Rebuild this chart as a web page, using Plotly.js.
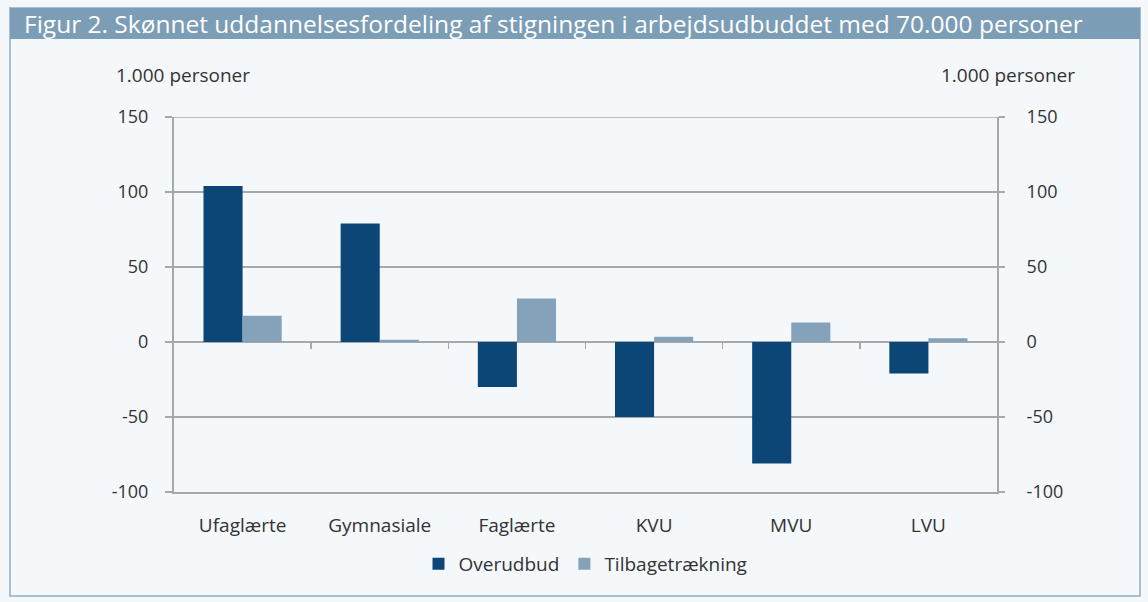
<!DOCTYPE html>
<html>
<head>
<meta charset="utf-8">
<script src="https://cdn.plot.ly/plotly-3.0.1.min.js"></script>
<style>
html,body{margin:0;padding:0;background:#f4f8fb;}
#chart{width:1148px;height:602px;}
</style>
</head>
<body>
<div id="chart"></div>
<script>
const categories = ["Ufaglærte", "Gymnasiale", "Faglærte", "KVU", "MVU", "LVU"];
const overudbud = [104, 79, -30, -50, -81, -21];
const tilbagetraekning = [17.5, 1.5, 29, 3.5, 13, 2.5];
const seriesNames = ["Overudbud", "Tilbagetrækning"];
const yTicks = [-100, -50, 0, 50, 100, 150];
const yTickText = ["-100", "-50", "0", "50", "100", "150"];
const titleText = "Figur 2. Skønnet uddannelsesfordeling af stigningen i arbejdsudbuddet med 70.000 personer";
const unitText = "1.000 personer";

const fontFam = "Open Sans, Noto Sans, sans-serif";
const txtCol = "#333333";
const gridCol = "#a4a9ae";

const L = 174, R = 997, T = 117, B = 492;
const PW = R - L, PH = B - T;

const boundaries = categories.slice(1).map((c, i) => i + 0.5);

const traces = [
  {type: "bar", name: seriesNames[0], x: categories, y: overudbud,
   marker: {color: "#0b4677"}, hoverinfo: "y"},
  {type: "bar", name: seriesNames[1], x: categories, y: tilbagetraekning,
   marker: {color: "#84a3bb"}, hoverinfo: "y"},
  {type: "scatter", x: boundaries, y: boundaries.map(() => 0), xaxis: "x2", yaxis: "y2",
   mode: "markers", marker: {opacity: 0}, showlegend: false, hoverinfo: "skip"}
];

const layout = {
  width: 1148, height: 602,
  paper_bgcolor: "#f4f8fb", plot_bgcolor: "#f4f8fb",
  margin: {l: L, r: 1148 - R, t: T, b: 602 - B},
  barmode: "group", bargap: 0.43, bargroupgap: 0,
  font: {family: fontFam, color: txtCol, size: 18},
  title: {text: titleText, x: 24/1148, xanchor: "left", xref: "container",
          y: 1 - 24/602, yanchor: "middle", yref: "container",
          font: {family: fontFam, size: 24.5, color: "#ffffff"}},
  xaxis: {type: "category", range: [-0.5, 5.5], showgrid: false, zeroline: false,
          showline: true, linecolor: gridCol, linewidth: 2, ticks: "",
          tickfont: {size: 19, color: txtCol}, ticklabelstandoff: 15},
  xaxis2: {overlaying: "x", range: [-0.5, 5.5], anchor: "free", position: 0.4,
           showgrid: false, zeroline: false, showline: false, ticks: "outside",
           tickvals: boundaries, ticklen: 6, tickcolor: gridCol, tickwidth: 1.5,
           showticklabels: false},
  yaxis: {range: [-100, 150], tickvals: yTicks, ticktext: yTickText, showgrid: true,
          gridcolor: gridCol, gridwidth: 1.5, zeroline: true, zerolinecolor: gridCol,
          zerolinewidth: 1.5, showline: true, linecolor: gridCol, linewidth: 2,
          ticks: "outside", ticklen: 7, tickcolor: gridCol, tickwidth: 1.5,
          ticklabelstandoff: 13, tickfont: {size: 18, color: txtCol}},
  yaxis2: {overlaying: "y", side: "right", range: [-100, 150], tickvals: yTicks,
           ticktext: yTickText, showgrid: false, zeroline: false, showline: true,
           linecolor: gridCol, linewidth: 2, ticks: "outside", ticklen: 6,
           tickcolor: gridCol, tickwidth: 1.5, ticklabelstandoff: 18,
           tickfont: {size: 18, color: txtCol}},
  showlegend: true,
  legend: {orientation: "h", x: 0.5, xanchor: "center", y: (B - 545) / PH, yanchor: "top",
           font: {size: 19, color: txtCol}, bgcolor: "rgba(0,0,0,0)", traceorder: "normal",
           itemwidth: 30},
  shapes: [
    {type: "rect", xref: "paper", yref: "paper",
     x0: (10 - L) / PW, x1: (1140 - L) / PW, y0: (B - 596) / PH, y1: (B - 8) / PH,
     line: {color: "#a9bfd0", width: 2}, fillcolor: "rgba(0,0,0,0)", layer: "below"},
    {type: "rect", xref: "paper", yref: "paper",
     x0: (10 - L) / PW, x1: (1140 - L) / PW, y0: (B - 39) / PH, y1: (B - 8) / PH,
     line: {width: 0}, fillcolor: "#7c9db6", layer: "below"},
    {type: "line", xref: "paper", yref: "y", x0: 0, x1: 1, y0: 150, y1: 150,
     line: {color: gridCol, width: 1.5}, layer: "above"}
  ],
  annotations: [
    {text: unitText, xref: "paper", yref: "paper", x: (183 - L) / PW, y: (B - 75) / PH,
     xanchor: "center", yanchor: "middle", showarrow: false, font: {size: 19, color: txtCol}},
    {text: unitText, xref: "paper", yref: "paper", x: (1008 - L) / PW, y: (B - 75) / PH,
     xanchor: "center", yanchor: "middle", showarrow: false, font: {size: 19, color: txtCol}}
  ]
};

Plotly.newPlot("chart", traces, layout, {displayModeBar: false, staticPlot: true});
</script>
</body>
</html>
